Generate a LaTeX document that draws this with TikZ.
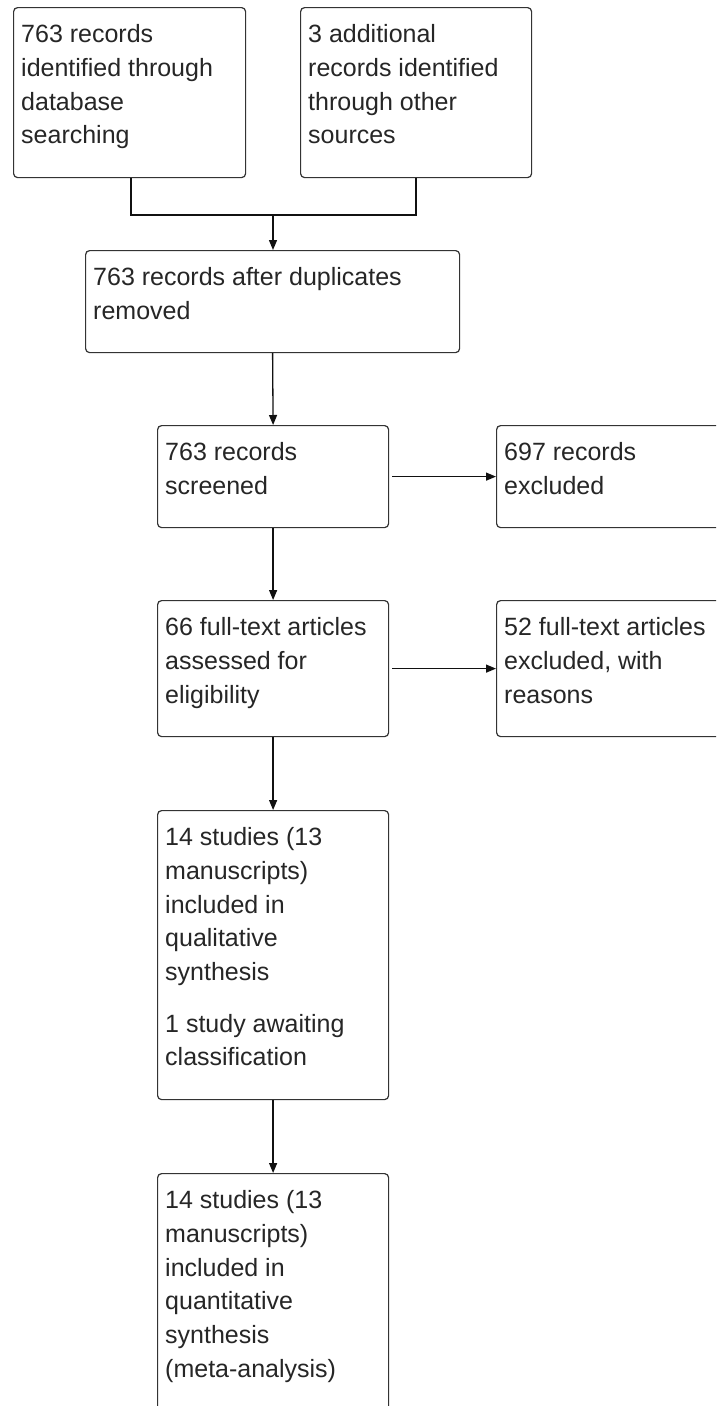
\documentclass[tikz,border=0pt]{standalone}
\usepackage{fontspec}
\setmainfont{Liberation Sans}
\usetikzlibrary{arrows.meta,calc}
\definecolor{boxline}{HTML}{333333}
\definecolor{txt}{HTML}{262626}
\definecolor{conn}{HTML}{111111}
\tikzset{
  flowbox/.style={draw=boxline, line width=1.2pt, rounded corners=4pt,
    inner sep=0pt, anchor=north west, fill=none},
  boxtext/.style={anchor=north west, inner sep=0pt, align=left, text=txt,
    font=\fontsize{25}{33.7}\selectfont},
  conline/.style={draw=conn, line width=1.3pt},
  arr/.style={conline, -{Triangle[length=10pt,width=8pt]}},
}
\newcommand{\firstline}{\rule{0pt}{22pt}}
\begin{document}
\begin{tikzpicture}[x=1pt,y=-1pt]
\useasboundingbox (0,0) rectangle (716,1406);
\fill[white] (0,0) rectangle (716,1406);
\clip (0,0) rectangle (716,1406);
% boxes
\node[flowbox, minimum width=232pt, minimum height=170pt] (b1) at (13,7) {};
\node[flowbox, minimum width=231pt, minimum height=170pt] (b2) at (300,7) {};
\node[flowbox, minimum width=374pt, minimum height=102pt] (b3) at (85,250) {};
\node[flowbox, minimum width=231pt, minimum height=102pt] (b4) at (157,425) {};
\node[flowbox, minimum width=240pt, minimum height=102pt] (b5) at (496,425) {};
\node[flowbox, minimum width=231pt, minimum height=136pt] (b6) at (157,600) {};
\node[flowbox, minimum width=240pt, minimum height=136pt] (b7) at (496,600) {};
\node[flowbox, minimum width=231pt, minimum height=289pt] (b8) at (157,810) {};
\node[flowbox, minimum width=231pt, minimum height=260pt] (b9) at (157,1173) {};
% texts
\node[boxtext] (t1) at ($(b1.north west)+(8,13.5)$) {\firstline 763 records\\identified through\\database\\searching};
\node[boxtext] (t2) at ($(b2.north west)+(8,13.5)$) {\firstline 3 additional\\records identified\\through other\\sources};
\node[boxtext] (t3) at ($(b3.north west)+(8,13.5)$) {\firstline 763 records after duplicates\\removed};
\node[boxtext] (t4) at ($(b4.north west)+(8,13.5)$) {\firstline 763 records\\screened};
\node[boxtext] (t5) at ($(b5.north west)+(8,13.5)$) {\firstline 697 records\\excluded};
\node[boxtext] (t6) at ($(b6.north west)+(8,13.5)$) {\firstline 66 full-text articles\\assessed for\\eligibility};
\node[boxtext] (t7) at ($(b7.north west)+(8,13.5)$) {\firstline 52 full-text articles\\excluded, with\\reasons};
\node[boxtext] (t8) at ($(b8.north west)+(8,13.5)$) {\firstline 14 studies (13\\manuscripts)\\included in\\qualitative\\synthesis\\[18pt]1 study awaiting\\classification};
\node[boxtext] (t9) at ($(b9.north west)+(8,13.5)$) {\firstline 14 studies (13\\manuscripts)\\included in\\quantitative\\synthesis\\(meta-analysis)};
% connectors
\coordinate (c1) at ($(b1.south west)+(118,0)$);
\coordinate (j) at (273,215);
\draw[conline] (c1) |- (j) -| (b2.south);
\draw[arr] (j) -- (j |- b3.north);
\draw[arr] (b3.south) -- (b4.north);
\draw[arr] ([xshift=3pt]b4.east) -- (b5.west);
\draw[arr] (b4.south) -- (b6.north);
\draw[arr] ([xshift=3pt]b6.east) -- (b7.west);
\draw[arr] (b6.south) -- (b8.north);
\draw[arr] (b8.south) -- (b9.north);
\end{tikzpicture}
\end{document}
